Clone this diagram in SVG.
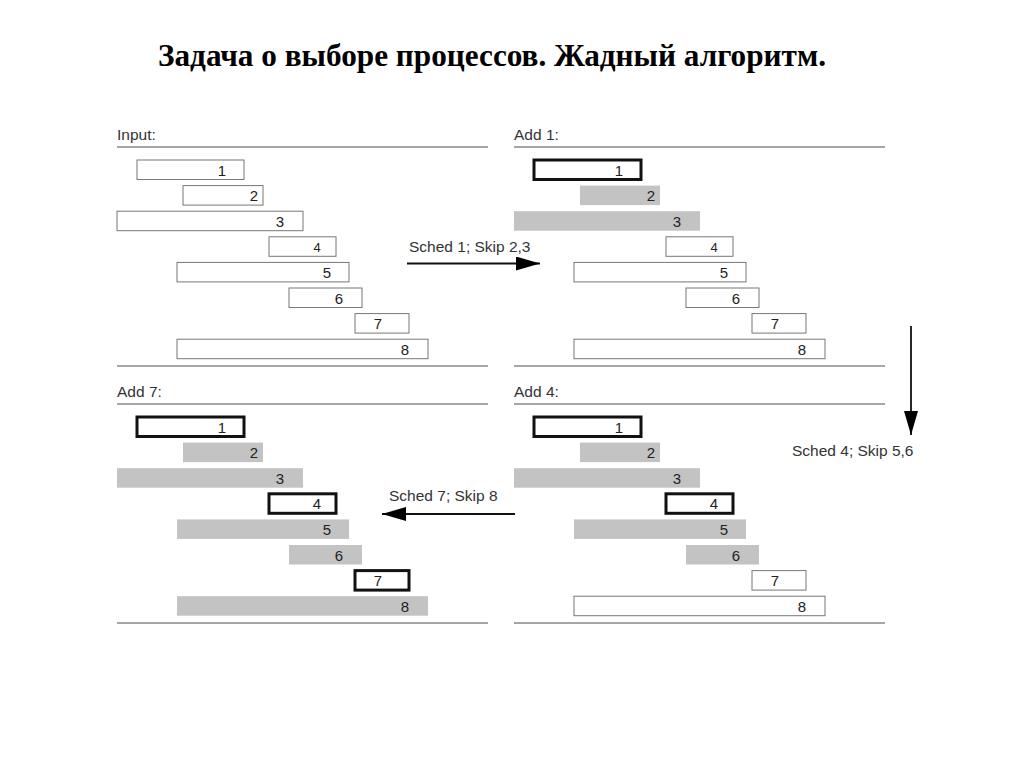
<svg xmlns="http://www.w3.org/2000/svg" width="1024" height="768" viewBox="0 0 1024 768">
<defs>
<style>
.title{font-family:"Liberation Serif","Times New Roman",serif;font-weight:bold;font-size:31px;fill:#000}
.hdr{font-family:"Liberation Sans",Arial,sans-serif;font-size:15.5px;fill:#333}
.lbl{font-family:"Liberation Sans",Arial,sans-serif;font-size:15px;fill:#222;text-anchor:middle}
.sm{font-size:13px}
.rule{stroke:#888;stroke-width:1.6;fill:none}
.w{fill:#fff;stroke:#777;stroke-width:1}
.g{fill:#c3c3c3;stroke:none}
.k{fill:#fff;stroke:#111;stroke-width:3}
.arr{stroke:#111;stroke-width:1.8;fill:none}
.ah{fill:#000}
</style>
<marker id="head" viewBox="0 0 24 14" refX="24" refY="7" markerWidth="24" markerHeight="14" markerUnits="userSpaceOnUse" orient="auto">
<path d="M0,0 L24,7 L0,14 z" class="ah"/>
</marker>
</defs>
<rect width="1024" height="768" fill="#fff"/>
<text class="title" x="158" y="66" textLength="668" lengthAdjust="spacingAndGlyphs">Задача о выборе процессов. Жадный алгоритм.</text>

<g id="panel-input">
<text class="hdr" x="117" y="140">Input:</text>
<line class="rule" x1="117" y1="147" x2="488" y2="147"/>
<line class="rule" x1="117" y1="366" x2="488" y2="366"/>
<g id="in-1"><rect class="w" x="137" y="160" width="107" height="19.5"/><text class="lbl" x="222" y="175.5">1</text></g>
<g id="in-2"><rect class="w" x="183" y="185.6" width="80" height="19.5"/><text class="lbl" x="254" y="201.1">2</text></g>
<g id="in-3"><rect class="w" x="117" y="211.2" width="186" height="19.5"/><text class="lbl" x="280" y="226.7">3</text></g>
<g id="in-4"><rect class="w" x="269" y="236.8" width="67" height="19.5"/><text class="lbl sm" x="317" y="252">4</text></g>
<g id="in-5"><rect class="w" x="177" y="262.4" width="172" height="19.5"/><text class="lbl" x="327" y="277.9">5</text></g>
<g id="in-6"><rect class="w" x="289" y="288" width="73" height="19.5"/><text class="lbl" x="339" y="303.5">6</text></g>
<g id="in-7"><rect class="w" x="355" y="313.6" width="54" height="19.5"/><text class="lbl" x="378" y="329.1">7</text></g>
<g id="in-8"><rect class="w" x="177" y="339.2" width="251" height="19.5"/><text class="lbl" x="405" y="354.7">8</text></g>
</g>

<g id="panel-add1" transform="translate(397,0)">
<text class="hdr" x="117" y="140">Add 1:</text>
<line class="rule" x1="117" y1="147" x2="488" y2="147"/>
<line class="rule" x1="117" y1="366" x2="488" y2="366"/>
<g id="a1-1"><rect class="k" x="137" y="160" width="107" height="19.5"/><text class="lbl" x="222" y="175.5">1</text></g>
<g id="a1-2"><rect class="g" x="183" y="185.6" width="80" height="19.5"/><text class="lbl" x="254" y="201.1">2</text></g>
<g id="a1-3"><rect class="g" x="117" y="211.2" width="186" height="19.5"/><text class="lbl" x="280" y="226.7">3</text></g>
<g id="a1-4"><rect class="w" x="269" y="236.8" width="67" height="19.5"/><text class="lbl sm" x="317" y="252">4</text></g>
<g id="a1-5"><rect class="w" x="177" y="262.4" width="172" height="19.5"/><text class="lbl" x="327" y="277.9">5</text></g>
<g id="a1-6"><rect class="w" x="289" y="288" width="73" height="19.5"/><text class="lbl" x="339" y="303.5">6</text></g>
<g id="a1-7"><rect class="w" x="355" y="313.6" width="54" height="19.5"/><text class="lbl" x="378" y="329.1">7</text></g>
<g id="a1-8"><rect class="w" x="177" y="339.2" width="251" height="19.5"/><text class="lbl" x="405" y="354.7">8</text></g>
</g>

<g id="panel-add4" transform="translate(397,257)">
<text class="hdr" x="117" y="140">Add 4:</text>
<line class="rule" x1="117" y1="147" x2="488" y2="147"/>
<line class="rule" x1="117" y1="366" x2="488" y2="366"/>
<g id="a4-1"><rect class="k" x="137" y="160" width="107" height="19.5"/><text class="lbl" x="222" y="175.5">1</text></g>
<g id="a4-2"><rect class="g" x="183" y="185.6" width="80" height="19.5"/><text class="lbl" x="254" y="201.1">2</text></g>
<g id="a4-3"><rect class="g" x="117" y="211.2" width="186" height="19.5"/><text class="lbl" x="280" y="226.7">3</text></g>
<g id="a4-4"><rect class="k" x="269" y="236.8" width="67" height="19.5"/><text class="lbl" x="317" y="252.3">4</text></g>
<g id="a4-5"><rect class="g" x="177" y="262.4" width="172" height="19.5"/><text class="lbl" x="327" y="277.9">5</text></g>
<g id="a4-6"><rect class="g" x="289" y="288" width="73" height="19.5"/><text class="lbl" x="339" y="303.5">6</text></g>
<g id="a4-7"><rect class="w" x="355" y="313.6" width="54" height="19.5"/><text class="lbl" x="378" y="329.1">7</text></g>
<g id="a4-8"><rect class="w" x="177" y="339.2" width="251" height="19.5"/><text class="lbl" x="405" y="354.7">8</text></g>
</g>

<g id="panel-add7" transform="translate(0,257)">
<text class="hdr" x="117" y="140">Add 7:</text>
<line class="rule" x1="117" y1="147" x2="488" y2="147"/>
<line class="rule" x1="117" y1="366" x2="488" y2="366"/>
<g id="a7-1"><rect class="k" x="137" y="160" width="107" height="19.5"/><text class="lbl" x="222" y="175.5">1</text></g>
<g id="a7-2"><rect class="g" x="183" y="185.6" width="80" height="19.5"/><text class="lbl" x="254" y="201.1">2</text></g>
<g id="a7-3"><rect class="g" x="117" y="211.2" width="186" height="19.5"/><text class="lbl" x="280" y="226.7">3</text></g>
<g id="a7-4"><rect class="k" x="269" y="236.8" width="67" height="19.5"/><text class="lbl" x="317" y="252.3">4</text></g>
<g id="a7-5"><rect class="g" x="177" y="262.4" width="172" height="19.5"/><text class="lbl" x="327" y="277.9">5</text></g>
<g id="a7-6"><rect class="g" x="289" y="288" width="73" height="19.5"/><text class="lbl" x="339" y="303.5">6</text></g>
<g id="a7-7"><rect class="k" x="355" y="313.6" width="54" height="19.5"/><text class="lbl" x="378" y="329.1">7</text></g>
<g id="a7-8"><rect class="g" x="177" y="339.2" width="251" height="19.5"/><text class="lbl" x="405" y="354.7">8</text></g>
</g>

<g id="connectors">
<line class="arr" x1="407" y1="263.5" x2="540" y2="263.5" marker-end="url(#head)"/>
<text class="hdr" x="409" y="251.5">Sched 1; Skip 2,3</text>
<line class="arr" x1="911" y1="326" x2="911" y2="435" marker-end="url(#head)"/>
<text class="hdr" x="792" y="455.5">Sched 4; Skip 5,6</text>
<line class="arr" x1="515" y1="514" x2="382" y2="514" marker-end="url(#head)"/>
<text class="hdr" x="389" y="500.5">Sched 7; Skip 8</text>
</g>
</svg>
